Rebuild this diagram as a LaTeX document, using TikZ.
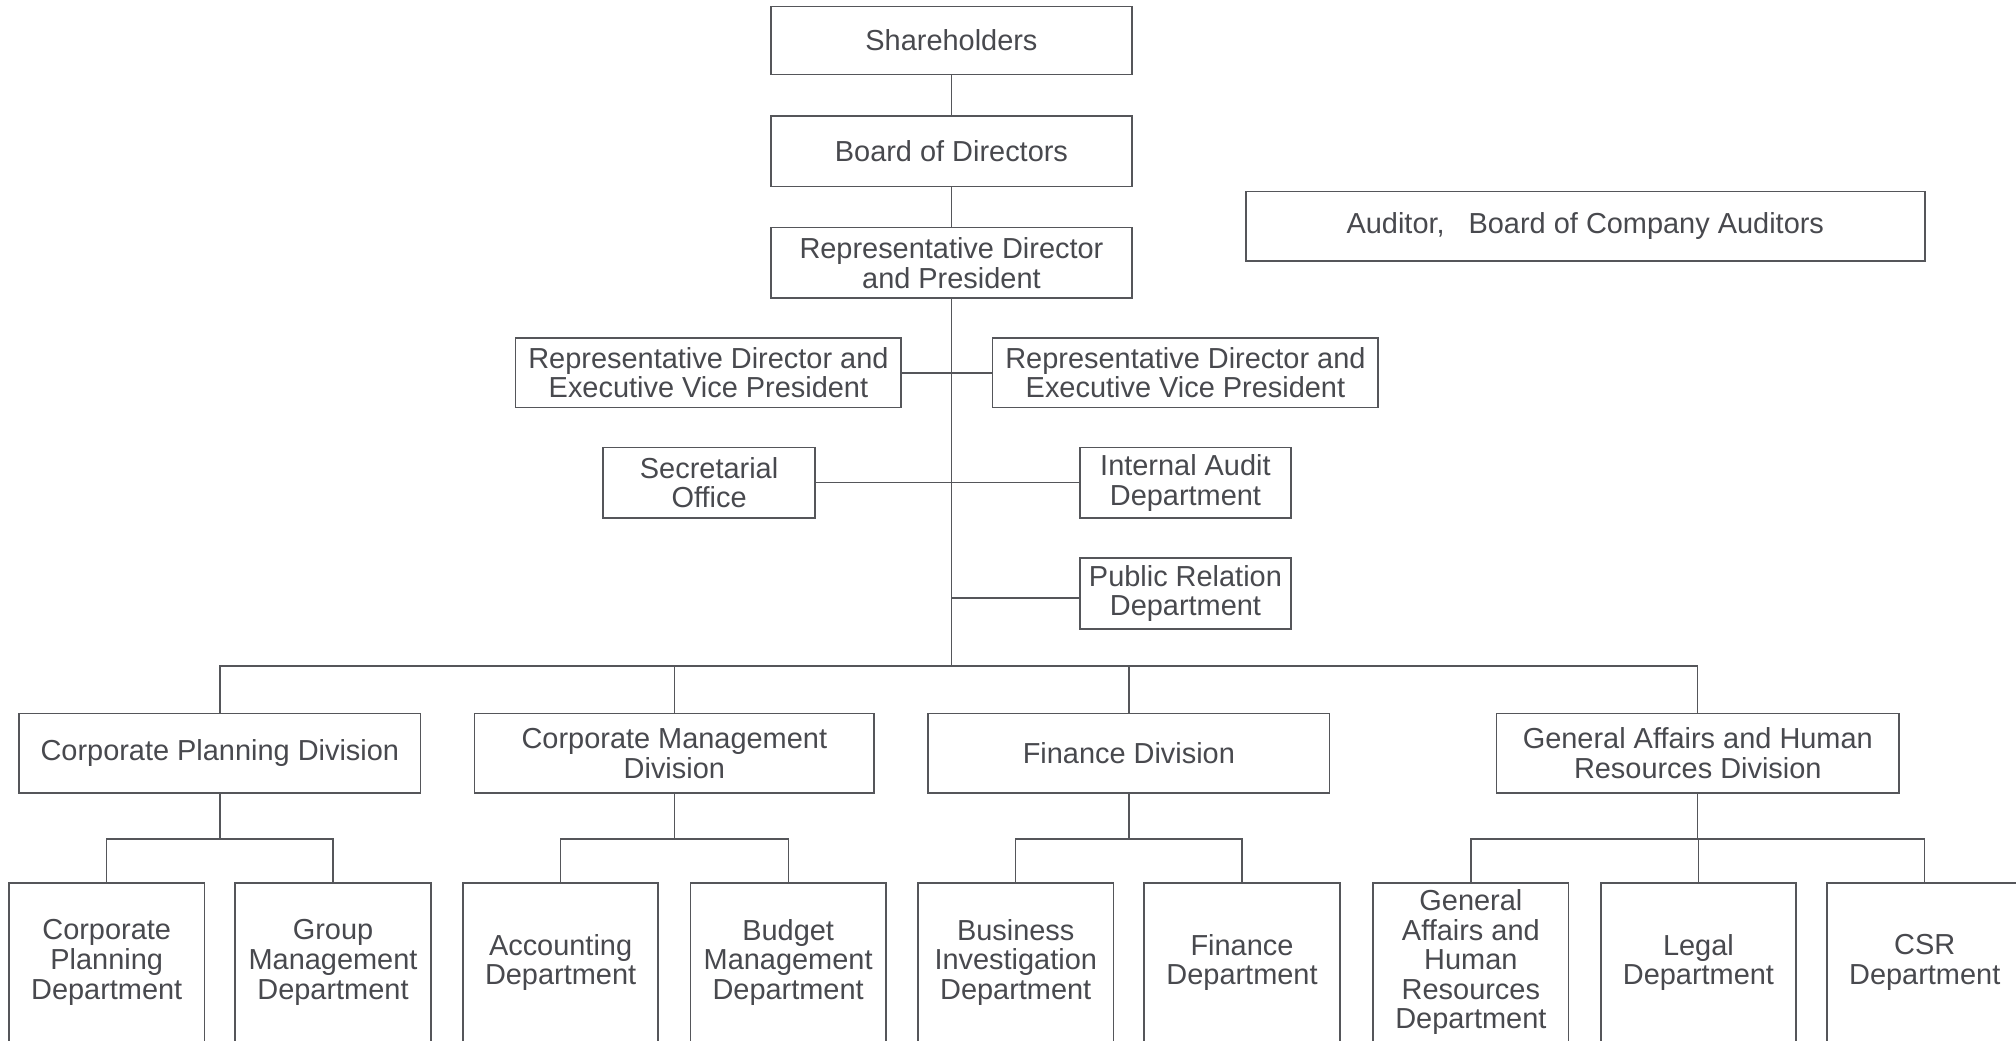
\documentclass[tikz,border=0pt]{standalone}
\usepackage{fontspec}
\setmainfont{Liberation Sans}
\definecolor{linec}{RGB}{85,86,90}
\definecolor{textc}{RGB}{72,73,78}
\tikzset{
  box/.style={draw=linec, line width=1.3pt, fill=white, text=textc, align=center,
    inner sep=0pt, font=\fontsize{22.5}{23}\selectfont},
  conn/.style={draw=linec, line width=1pt},
}
\begin{document}
\begin{tikzpicture}[x=1pt,y=-1pt]
\useasboundingbox (0,0) rectangle (1568,809);
\clip (0,0) rectangle (1568,809);
\fill[white] (0,0) rectangle (1568,809);
% top chain
\node[box, minimum width=281pt, minimum height=53pt] (sh) at (740,31.5) {Shareholders};
\node[box, minimum width=281pt, minimum height=55pt] (bod) at (740,117.5) {Board of Directors};
\node[box, minimum width=281pt, minimum height=55pt] (rdp) at (740,204.5) {Representative Director\\and President};
\node[box, minimum width=528pt, minimum height=54pt] (aud) at (1233,176) {Auditor,\hspace{0.55em} Board of Company Auditors};
% staff
\node[box, minimum width=300pt, minimum height=54pt] (evpL) at (551,290) {Representative Director and\\Executive Vice President};
\node[box, minimum width=300pt, minimum height=54pt] (evpR) at (922,290) {Representative Director and\\Executive Vice President};
\node[box, minimum width=165pt, minimum height=55pt] (sec) at (551.5,375.5) {Secretarial\\Office};
\node[box, minimum width=164pt, minimum height=55pt] (iad) at (922,375.5) {Internal Audit\\Department};
\node[box, minimum width=164pt, minimum height=55pt] (prd) at (922,461.5) {Public Relation\\Department};
% divisions
\node[box, minimum width=312pt, minimum height=62pt] (dv1) at (171,586) {Corporate Planning Division};
\node[box, minimum width=311pt, minimum height=62pt] (dv2) at (524.5,586) {Corporate Management\\Division};
\node[box, minimum width=312pt, minimum height=62pt] (dv3) at (878,586) {Finance Division};
\node[box, minimum width=313pt, minimum height=62pt] (dv4) at (1320.5,586) {General Affairs and Human\\Resources Division};
% departments
\tikzset{dept/.style={box, minimum width=152pt, minimum height=123pt}}
\node[dept] (d11) at (83,748.5) {Corporate\\Planning\\Department};
\node[dept] (d12) at (259,748.5) {Group\\Management\\Department};
\node[dept] (d21) at (436,748.5) {Accounting\\Department};
\node[dept] (d22) at (613,748.5) {Budget\\Management\\Department};
\node[dept] (d31) at (790,748.5) {Business\\Investigation\\Department};
\node[dept] (d32) at (966,748.5) {Finance\\Department};
\node[dept] (d41) at (1144,748.5) {General\\Affairs and\\Human\\Resources\\Department};
\node[dept] (d42) at (1321,748.5) {Legal\\Department};
\node[dept] (d43) at (1497,748.5) {CSR\\Department};
% connectors
\coordinate (bus) at (740,518);
\coordinate (prj) at (740,465);
\draw[conn] (sh.south) -- (bod.north);
\draw[conn] (bod.south) -- (rdp.north);
\draw[conn] (rdp.south) -- (bus);
\draw[conn] (evpL.east) -- (evpR.west);
\draw[conn] (sec.east) -- (iad.west);
\draw[conn] (prj) -- (prj -| prd.west);
\draw[conn] (dv1.north) |- (bus) -| (dv4.north);
\draw[conn] (dv2.north) -- (dv2.north |- bus);
\draw[conn] (dv3.north) -- (dv3.north |- bus);
\draw[conn] (dv1.south) -- ++(0,35) coordinate (s1);
\draw[conn] (d11.north) |- (s1) -| (d12.north);
\draw[conn] (dv2.south) -- ++(0,35) coordinate (s2);
\draw[conn] (d21.north) |- (s2) -| (d22.north);
\draw[conn] (dv3.south) -- ++(0,35) coordinate (s3);
\draw[conn] (d31.north) |- (s3) -| (d32.north);
\draw[conn] (dv4.south) -- ++(0,35) coordinate (s4);
\draw[conn] (d41.north) |- (s4) -| (d43.north);
\draw[conn] (d42.north) -- (d42.north |- s4);
\end{tikzpicture}
\end{document}
